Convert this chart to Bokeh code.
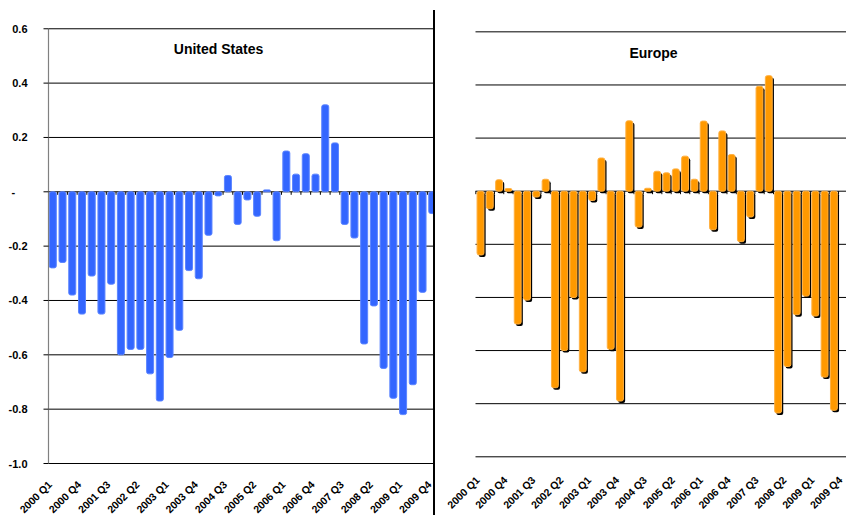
import math
import numpy as np
from bokeh.plotting import figure
from bokeh.layouts import row
from bokeh.models import ColumnDataSource, Range1d, Label
from bokeh.core.properties import value
from bokeh.embed import file_html
from bokeh.resources import INLINE

# ---------------- data ----------------
quarters = [f"{y} Q{q}" for y in range(2000, 2010) for q in range(1, 5)]

us_values = [-0.28, -0.26, -0.38, -0.45, -0.31, -0.45, -0.34, -0.60, -0.58, -0.58,
             -0.67, -0.77, -0.61, -0.51, -0.29, -0.32, -0.16, -0.015, 0.06, -0.12,
             -0.03, -0.09, 0.007, -0.18, 0.15, 0.065, 0.14, 0.065, 0.32, 0.18,
             -0.12, -0.17, -0.56, -0.42, -0.65, -0.76, -0.82, -0.71, -0.37, -0.08]

# last quarter (2009 Q4) of Europe lies outside the reference picture
europe_values = [-0.24, -0.066, 0.043, 0.01, -0.50, -0.41, -0.022, 0.045, -0.74, -0.60,
                 -0.40, -0.68, -0.035, 0.125, -0.595, -0.79, 0.265, -0.135, 0.011, 0.075,
                 0.069, 0.084, 0.132, 0.045, 0.264, -0.145, 0.227, 0.138, -0.19, -0.097,
                 0.395, 0.435, -0.835, -0.66, -0.465, -0.395, -0.47, -0.70, -0.825]

y_ticks = [-1.0, -0.8, -0.6, -0.4, -0.2, 0.0, 0.2, 0.4, 0.6]
y_tick_labels = ["-1.0", "-0.8", "-0.6", "-0.4", "-0.2", "-", "0.2", "0.4", "0.6"]
label_every = 3

titles = ["United States", "Europe"]

# ---------------- page geometry (pixels; style only) ----------------
FONT = "Liberation Sans"
H = 515
GEOM_US = dict(width=435, x0=52.3, dx=9.73, zero=191.3, unit=271.7,
               left=48, right=432.5, lab_y=482, title=(218, 48.0))
GEOM_EU = dict(width=411, x0=45.0, dx=9.3, zero=190.7, unit=265.6,
               left=40, right=411, lab_y=477.5, title=(218, 52.5))


def px_x(g, px):
    return (px - g["x0"]) / g["dx"]


def px_y(g, py):
    return (g["zero"] - py) / g["unit"]


idx_all = np.arange(len(quarters))
x_ticks = list(range(0, len(quarters), label_every))
boundaries = idx_all - 0.5


def make_panel(g, title):
    p = figure(width=g["width"], height=H,
               x_range=Range1d(px_x(g, 0), px_x(g, g["width"])),
               y_range=Range1d(px_y(g, H), px_y(g, 0)),
               output_backend="svg", toolbar_location=None,
               min_border_left=0, min_border_right=0,
               min_border_top=0, min_border_bottom=0)
    p.axis.visible = False
    p.grid.visible = False
    p.outline_line_color = None
    p.background_fill_color = "white"
    p.border_fill_color = "white"

    xl, xr = px_x(g, g["left"]), px_x(g, g["right"])
    n = len(y_ticks)
    # horizontal gridlines (the 0 line doubles as the category axis)
    p.segment(x0=[xl] * n, x1=[xr] * n, y0=y_ticks, y1=y_ticks,
              line_color="black", line_width=1)
    # small category ticks hanging under the zero line
    tick_len = 3 / g["unit"]
    b = boundaries[boundaries > xl]
    p.segment(x0=b, x1=b, y0=[0] * len(b), y1=[-tick_len] * len(b),
              line_color="black", line_width=1)
    # rotated category labels
    p.text(x=x_ticks, y=[px_y(g, g["lab_y"])] * len(x_ticks),
           text=[quarters[i] for i in x_ticks], angle=math.pi / 4,
           text_align="right", text_baseline="middle", x_offset=-3,
           text_font=value(FONT), text_font_style="bold",
           text_font_size="10.5px", text_color="black")
    # panel title
    p.add_layout(Label(x=px_x(g, g["title"][0]), y=px_y(g, g["title"][1]),
                       text=title, text_align="center",
                       text_baseline="alphabetic", text_font=FONT,
                       text_font_style="bold", text_font_size="14px",
                       text_color="black"))
    return p


# ---------------- United States ----------------
g = GEOM_US
p1 = make_panel(g, titles[0])
src_us = ColumnDataSource(dict(x=idx_all[:len(us_values)], top=us_values))
p1.vbar(x="x", top="top", bottom=0, width=0.72, source=src_us,
        fill_color="#3366FF", line_color="#5C85FF", line_width=1, border_radius=2)
# value axis: line, ticks, labels ("-" for zero sits left, accounting style)
ax_x = px_x(g, g["left"])
p1.segment(x0=[ax_x], x1=[ax_x], y0=[y_ticks[0]], y1=[y_ticks[-1]],
           line_color="#808080", line_width=1.2)
p1.segment(x0=[px_x(g, g["left"] - 5)] * len(y_ticks), x1=[ax_x] * len(y_ticks),
           y0=y_ticks, y1=y_ticks, line_color="black", line_width=1)
ylab_src = ColumnDataSource(dict(
    x=[px_x(g, 11) if t == "-" else px_x(g, 27) for t in y_tick_labels],
    y=y_ticks, text=y_tick_labels,
    align=["left" if t == "-" else "right" for t in y_tick_labels]))
p1.text(x="x", y="y", text="text", source=ylab_src,
        text_align="align", text_baseline="middle",
        text_font=value(FONT), text_font_style="bold",
        text_font_size="11px", text_color="black")
# separator between the two panels
p1.segment(x0=[px_x(g, 433.8)], x1=[px_x(g, 433.8)], y0=[px_y(g, 9.5)], y1=[px_y(g, H)],
           line_color="black", line_width=2.6)

# ---------------- Europe ----------------
g = GEOM_EU
p2 = make_panel(g, titles[1])
eu = np.array(europe_values)
sh_dx = 1.7 / g["dx"]
sh_dy = 2.0 / g["unit"]
src_eu = ColumnDataSource(dict(x=idx_all[:len(eu)], top=eu,
                               xs=idx_all[:len(eu)] + sh_dx, ts=eu - sh_dy,
                               bs=np.full(len(eu), -sh_dy)))
p2.vbar(x="xs", top="ts", bottom="bs", width=0.74, source=src_eu,
        fill_color="black", line_color=None, border_radius=2)
p2.vbar(x="x", top="top", bottom=0, width=0.74, source=src_eu,
        fill_color="#FF9900", line_color="#FFB040", line_width=1, border_radius=2)

layout = row(p1, p2, spacing=0)
open("out.html", "w").write(file_html(layout, INLINE))
